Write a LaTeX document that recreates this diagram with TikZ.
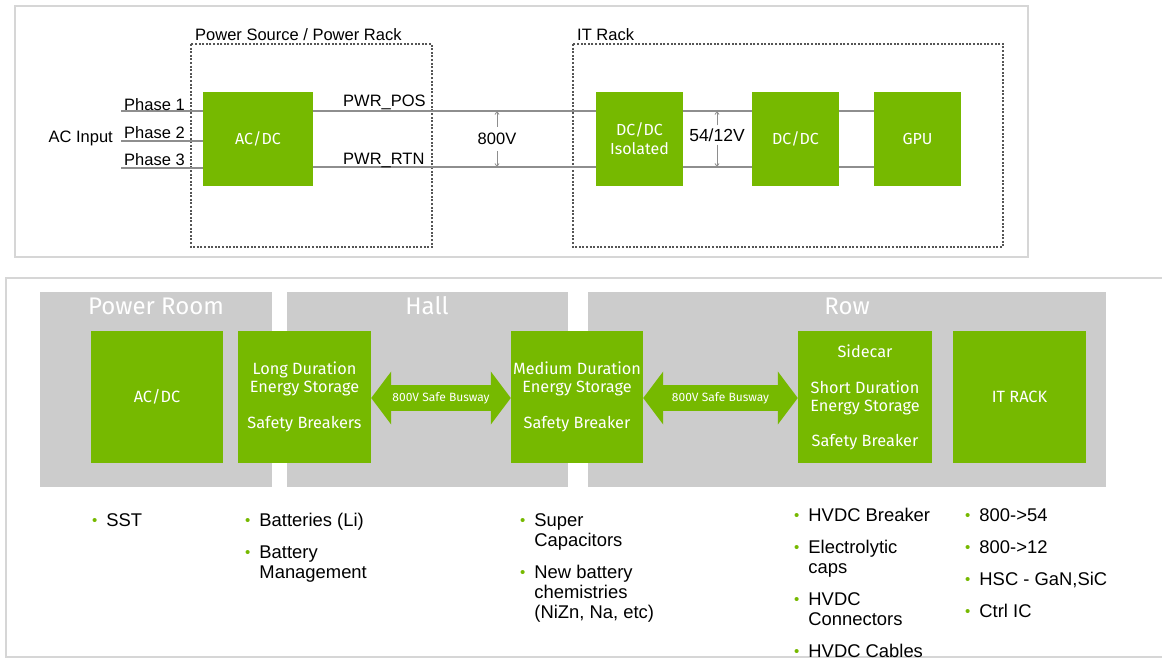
\documentclass[tikz,border=0pt]{standalone}
\usepackage{fontspec}
\setmainfont{Liberation Sans}
\newfontfamily\boxfont{Fira Sans}
\usetikzlibrary{arrows.meta,calc}
\definecolor{nvgreen}{HTML}{76B900}
\definecolor{zonegray}{HTML}{CCCCCC}
\definecolor{wiregray}{HTML}{8E8E8E}
\definecolor{framegray}{HTML}{D6D6D6}
\definecolor{dashgray}{HTML}{555555}
\newcommand{\gbul}{{\color{nvgreen}\fontsize{15}{15}\selectfont\raisebox{1pt}{\textbullet}}}
\begin{document}
\begin{tikzpicture}[x=1pt,y=-1pt,
  frame/.style={draw=framegray,line width=1.6pt},
  dashbox/.style={draw=dashgray,line width=1.1pt,dash pattern=on 2pt off 1.6pt},
  topg/.style={fill=nvgreen,draw=none,inner sep=0pt,text=white,align=center,
    font=\boxfont\fontsize{16}{19}\selectfont,minimum height=94pt},
  botg/.style={fill=nvgreen,draw=none,inner sep=0pt,text=white,align=center,
    font=\boxfont\fontsize{16.3}{18}\selectfont,minimum width=133pt,minimum height=132pt},
  wire/.style={draw=wiregray,line width=1.6pt},
  lbl/.style={inner sep=0pt,font=\fontsize{16.5}{19}\selectfont,text=black},
  volt/.style={draw=wiregray,line width=0.8pt,-{Straight Barb[length=3pt,width=4pt]}},
  zone/.style={fill=zonegray,draw=none},
  zonetitle/.style={inner sep=0pt,text=white,font=\boxfont\fontsize{24}{26}\selectfont},
  busway/.style={draw=nvgreen,line width=26pt,
    {Triangle[length=20pt,width=52pt]}-{Triangle[length=20pt,width=52pt]}},
  bustext/.style={inner sep=0pt,text=white,font=\boxfont\fontsize{12}{13}\selectfont},
  items/.style={inner sep=0pt,anchor=base west,align=left,font=\fontsize{18.4}{20}\selectfont}
]
\useasboundingbox (0,0) rectangle (1162,659);
\fill[white] (0,0) rectangle (1162,659);

% ---------- top panel ----------
\draw[frame] (15,6) rectangle (1028,257);
\draw[dashbox] (191,44) rectangle (432,247);
\draw[dashbox] (573,44) rectangle (1003,247);
\node[lbl,anchor=base west] (psrc) at (195,40) {Power Source / Power Rack};
\node[lbl,anchor=base west] (itrk) at (577,40) {IT Rack};

\node[topg,minimum width=110pt] (acdc) at (258,139) {AC/DC};
\node[topg,minimum width=87pt] (iso) at (639.5,139) {DC/DC\\Isolated};
\node[topg,minimum width=87pt] (dcdc) at (795.5,139) {DC/DC};
\node[topg,minimum width=87pt] (gpu) at (917.5,139) {GPU};

\coordinate (p1) at (121,111);
\coordinate (p2) at (121,141);
\coordinate (p3) at (121,168);
\draw[wire] (p1) -- (p1 -| acdc.west);
\draw[wire] (p2) -- (p2 -| acdc.west);
\draw[wire] (p3) -- (p3 -| acdc.west);
\node[lbl,anchor=base west] (ph1) at (124,110) {Phase 1};
\node[lbl,anchor=base west] (ph2) at (124,138) {Phase 2};
\node[lbl,anchor=base west] (ph3) at (124,165) {Phase 3};
\node[lbl,anchor=base east] (acin) at (113,142) {AC Input};

\draw[wire] ([yshift=-19pt]acdc.north east) coordinate (posA) -- ([yshift=-19pt]iso.north west);
\draw[wire] ([yshift=19pt]acdc.south east) coordinate (rtnA) -- ([yshift=19pt]iso.south west);
\node[lbl,anchor=base west] (pos) at (343,106) {PWR\_POS};
\node[lbl,anchor=base west] (rtn) at (343,164) {PWR\_RTN};

\draw[wire] ([yshift=-19pt]iso.north east) -- ([yshift=-19pt]dcdc.north west);
\draw[wire] ([yshift=19pt]iso.south east) -- ([yshift=19pt]dcdc.south west);
\draw[wire] ([yshift=-19pt]dcdc.north east) -- ([yshift=-19pt]gpu.north west);
\draw[wire] ([yshift=19pt]dcdc.south east) -- ([yshift=19pt]gpu.south west);

\node[lbl] (v800) at (497,139) {800V};
\draw[volt] ([yshift=6pt]v800.north) -- (v800.north |- posA);
\draw[volt] ([yshift=-6pt]v800.south) -- (v800.south |- rtnA);
\node[lbl,font=\fontsize{17.5}{19}\selectfont] (v54) at (717,135) {54/12V};
\draw[volt] ([yshift=3pt]v54.north) -- (v54.north |- posA);
\draw[volt] ([yshift=-3pt]v54.south) -- (v54.south |- rtnA);

% ---------- bottom panel ----------
\draw[frame] (1170,278) -- (6,278) -- (6,657) -- (1170,657);
\fill[zone] (40,292) rectangle (272,487);
\fill[zone] (287,292) rectangle (568,487);
\fill[zone] (588,292) rectangle (1106,487);
\node[zonetitle] (tpr) at (156,306) {Power Room};
\node[zonetitle] (thall) at (427,306) {Hall};
\node[zonetitle] (trow) at (847,306) {Row};

\node[botg,minimum width=132pt] (bacdc) at (157,397) {AC/DC};
\node[botg] (lds) at (304.5,397) {Long Duration\\Energy Storage\\[18pt]Safety Breakers};
\node[botg,minimum width=132pt] (mds) at (577,397) {Medium Duration\\Energy Storage\\[18pt]Safety Breaker};
\node[botg,minimum width=134pt] (side) at (865,397) {Sidecar\\[18pt]Short Duration\\Energy Storage\\[17pt]Safety Breaker};
\node[botg] (itr) at (1019.5,397) {IT RACK};

\draw[busway] ([yshift=-1pt]lds.east) -- node[bustext] {800V Safe Busway} ([yshift=-1pt]mds.west);
\draw[busway] ([yshift=-1pt]mds.east) -- node[bustext] {800V Safe Busway} ([yshift=-1pt]side.west);

\node[items] (c1) at (92,526) {\begin{tabular}[t]{@{}l@{\hspace{9pt}}l@{}}\gbul & SST\end{tabular}};
\node[items] (c2) at (245,526) {\begin{tabular}[t]{@{}l@{\hspace{9pt}}l@{}}\gbul & Batteries (Li)\\[12pt]\gbul & Battery\\ & Management\end{tabular}};
\node[items] (c3) at (520,526) {\begin{tabular}[t]{@{}l@{\hspace{9pt}}l@{}}\gbul & Super\\ & Capacitors\\[12pt]\gbul & New battery\\ & chemistries\\ & (NiZn, Na, etc)\end{tabular}};
\node[items] (c4) at (794,521) {\begin{tabular}[t]{@{}l@{\hspace{9pt}}l@{}}\gbul & HVDC Breaker\\[12pt]\gbul & Electrolytic\\ & caps\\[12pt]\gbul & HVDC\\ & Connectors\\[12pt]\gbul & HVDC Cables\end{tabular}};
\node[items] (c5) at (965,521) {\begin{tabular}[t]{@{}l@{\hspace{9pt}}l@{}}\gbul & 800->54\\[12pt]\gbul & 800->12\\[12pt]\gbul & HSC - GaN,SiC\\[12pt]\gbul & Ctrl IC\end{tabular}};
\end{tikzpicture}
\end{document}
